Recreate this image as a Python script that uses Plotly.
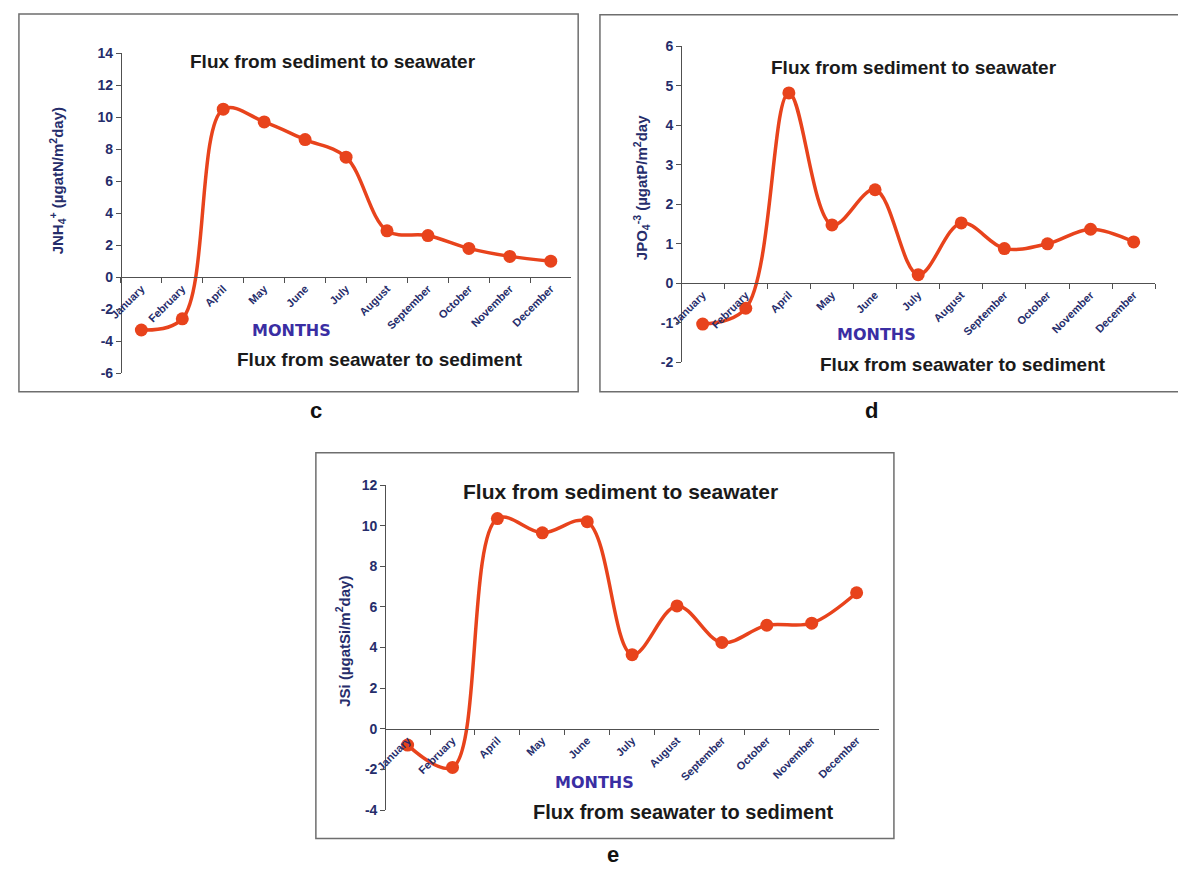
import plotly.graph_objects as go

W, H = 1178, 875

months = ["January", "February", "April", "May", "June", "July", "August",
          "September", "October", "November", "December"]

nh4_flux = [-3.3, -2.6, 10.5, 9.7, 8.6, 7.5, 2.9, 2.6, 1.8, 1.3, 1.0]
po4_flux = [-1.03, -0.63, 4.82, 1.48, 2.37, 0.22, 1.53, 0.88, 1.0, 1.37, 1.05]
si_flux = [-0.8, -1.9, 10.35, 9.65, 10.2, 3.65, 6.05, 4.25, 5.1, 5.2, 6.7]

LINE = "#e8431c"
NAVY = "#262d6b"
PURPLE = "#3a2ea3"
AXC = "#505050"
FONT = "Liberation Sans, Arial, sans-serif"


def px(x):
    return x / W


def py(y):
    return 1 - y / H


panels = [
    dict(key="", data=nh4_flux, xpx=(110, 565), ypx=(46, 372), yr=(-6, 14), dtick=2,
         ytitle="JNH<sub>4</sub><sup>+</sup> (µgatN/m<sup>2</sup>day)", ytx=46, yty=176,
         top=("Flux from sediment to seawater", 324, 54, 19),
         bot=("Flux from seawater to sediment", 372, 358, 19),
         months=(282, 328), box=(7, 6, 572, 391), label=("c", 307, 410)),
    dict(key="2", data=po4_flux, xpx=(676, 1155), ypx=(39, 361), yr=(-2, 6), dtick=1,
         ytitle="JPO<sub>4</sub><sup>-3</sup> (µgatP/m<sup>2</sup>day", ytx=636, yty=183,
         top=("Flux from sediment to seawater", 911, 61, 19),
         bot=("Flux from seawater to sediment", 961, 363, 19),
         months=(873, 333), box=(594, 7, 1180, 391), label=("d", 868, 410)),
    dict(key="3", data=si_flux, xpx=(377, 876), ypx=(486, 817), yr=(-4, 12), dtick=2,
         ytitle="JSi (µgatSi/m<sup>2</sup>day)", ytx=334, yty=645,
         top=("Flux from sediment to seawater", 615, 492, 21),
         bot=("Flux from seawater to sediment", 678, 819, 20),
         months=(588, 789), box=(307, 453, 891, 846), label=("e", 607, 862)),
]

fig = go.Figure()
shapes = []
annotations = []

for p in panels:
    k = p["key"]
    xa = "x" + k
    ya = "y" + k
    fig.add_trace(go.Scatter(
        x=months, y=p["data"], xaxis=xa, yaxis=ya, mode="lines+markers",
        line=dict(color=LINE, width=3.5, shape="spline", smoothing=1),
        marker=dict(color=LINE, size=13), showlegend=False, hoverinfo="x+y"))

    y0p, y1p = py(p["ypx"][1]), py(p["ypx"][0])
    ymin, ymax = p["yr"]
    zero_pos = y0p + (0 - ymin) / (ymax - ymin) * (y1p - y0p)
    tv = list(range(ymin, ymax + 1, p["dtick"]))

    fig.layout["xaxis" + k] = dict(
        domain=[px(p["xpx"][0]), px(p["xpx"][1])], anchor="free", position=zero_pos,
        type="category", categoryorder="array", categoryarray=months,
        range=[-0.5, len(months) - 0.5], showline=True, linecolor=AXC, linewidth=1,
        ticks="outside", ticklen=5, tickcolor=AXC, tickson="boundaries",
        tickangle=-45, tickfont=dict(family=FONT, size=11, color=NAVY, weight="bold"),
        showgrid=False, zeroline=False, fixedrange=True)
    fig.layout["yaxis" + k] = dict(
        domain=[y0p, y1p], anchor="free", position=px(p["xpx"][0]), range=[ymin, ymax],
        tickmode="array", tickvals=tv, ticktext=[str(v) for v in tv],
        showline=True, linecolor=AXC, linewidth=1, ticks="outside", ticklen=5,
        tickcolor=AXC, tickfont=dict(family=FONT, size=14, color=NAVY, weight="bold"),
        showgrid=False, zeroline=False, fixedrange=True)

    x0, y0, x1, y1 = p["box"]
    shapes.append(dict(type="rect", xref="paper", yref="paper",
                       x0=px(x0), x1=px(x1), y0=py(y1), y1=py(y0),
                       line=dict(color="#6e6e6e", width=1.5), fillcolor="rgba(0,0,0,0)"))

    common = dict(xref="paper", yref="paper", showarrow=False, xanchor="center", yanchor="middle")
    annotations.append(dict(text="<b>" + p["ytitle"] + "</b>", x=px(p["ytx"]), y=py(p["yty"]),
                            textangle=-90, font=dict(family=FONT, size=15, color=NAVY), **common))
    t, tx, ty, ts = p["top"]
    annotations.append(dict(text="<b>" + t + "</b>", x=px(tx), y=py(ty),
                            font=dict(family=FONT, size=ts, color="#1a1a1a"), **common))
    t, tx, ty, ts = p["bot"]
    annotations.append(dict(text="<b>" + t + "</b>", x=px(tx), y=py(ty),
                            font=dict(family=FONT, size=ts, color="#1a1a1a"), **common))
    mx, my = p["months"]
    annotations.append(dict(text="<b>MONTHS</b>", x=px(mx), y=py(my),
                            font=dict(family="DejaVu Sans, sans-serif", size=16, color=PURPLE),
                            **common))
    lt, lx, ly = p["label"]
    annotations.append(dict(text="<b>" + lt + "</b>", x=px(lx), y=py(ly),
                            font=dict(family=FONT, size=22, color="#111111"), **common))

fig.update_layout(
    width=W, height=H, margin=dict(l=0, r=0, t=0, b=0),
    paper_bgcolor="white", plot_bgcolor="rgba(0,0,0,0)",
    shapes=shapes, annotations=annotations, showlegend=False)

fig.write_html("out.html")
